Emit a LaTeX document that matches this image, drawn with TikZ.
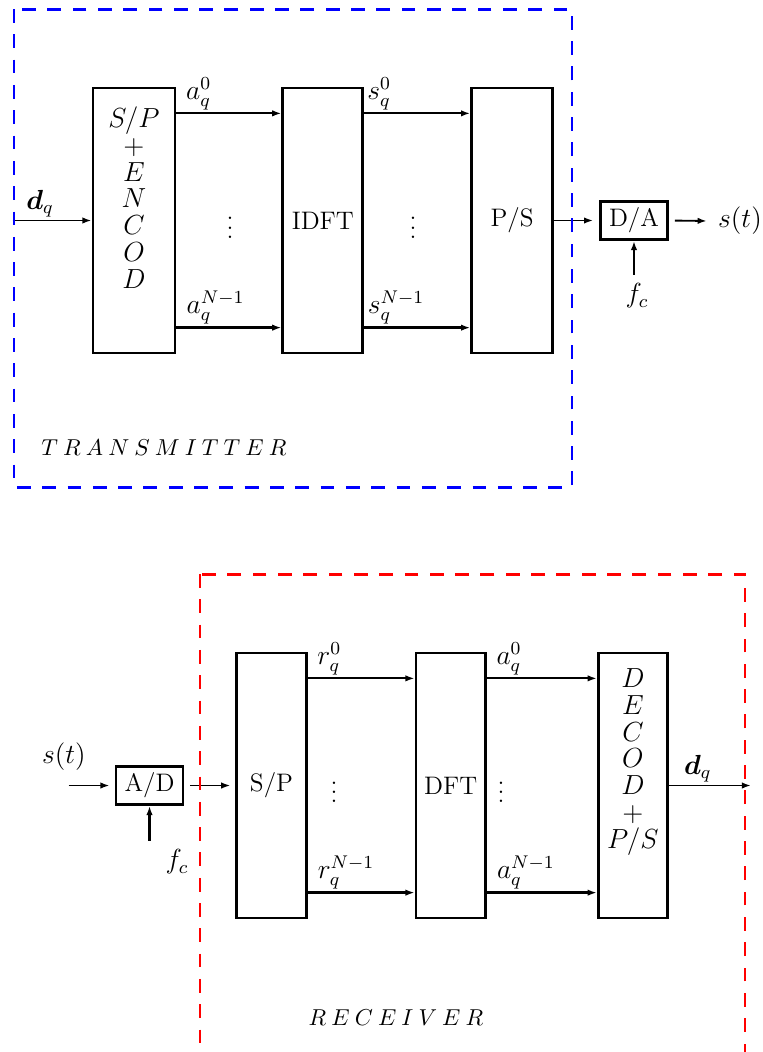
\documentclass[tikz,border=0pt]{standalone}
\usepackage{amsmath}
\usepackage{amssymb}
\usepackage{tikz}
\usetikzlibrary{arrows.meta,calc,positioning}
\tikzset{
  ofBlock/.style={
    rectangle, draw, line width=1.2pt, minimum width=#1,
    minimum height=4.049cm, inner sep=0pt, font=\fontsize{11}{13}\selectfont
  },
  ofBlock/.default=1.06cm,
  ofSmall/.style={
    rectangle, draw, line width=1.2pt, minimum width=1.024cm,
    minimum height=0.581cm, inner sep=0pt, font=\fontsize{11}{13}\selectfont
  },
  ofStack/.style={align=center, inner sep=0pt, font=\fontsize{12}{11.6}\selectfont},
  ofMath/.style={font=\large},
  ofLabel/.style={anchor=south west, inner sep=1pt, xshift=0.1cm, font=\large},
  ofArrow/.style={-{Latex[length=4pt, width=2.8pt]}, line width=0.8pt},
  ofThick/.style={ofArrow, line width=1.2pt},
  ofFrame/.style={draw=#1, line width=1.3pt, dash pattern=on 6pt off 5pt}
}

\begin{document}
\begin{tikzpicture}[x=0.01528cm, y=-0.01528cm]
  \useasboundingbox (0,0) rectangle (763,1052);

  % transmitter
  \node[ofBlock=1.253cm] (enc) at (134,220.5) {};
  \node[ofStack] (enctxt) at ([yshift=0.35cm]enc.center) {$S/P$\\$+$\\$E$\\$N$\\$C$\\$O$\\$D$};
  \node[ofBlock=1.222cm, right=1.604cm of enc] (idft) {IDFT};
  \node[ofBlock=1.238cm, right=1.620cm of idft] (ps) {P/S};
  \node[ofSmall, right=0.688cm of ps] (da) {D/A};
  \node[ofMath] (st) at (740,221) {$s(t)$};
  \node[ofMath] (fc) at (637,296) {$f_c$};
  \node (dotsa) at (230,221) {$\vdots$};
  \node (dotsb) at (413,221) {$\vdots$};
  \coordinate (txin) at ([xshift=-1.207cm]enc.west);
  \coordinate (fcin) at ([yshift=-0.52cm]da.south);

  \draw[ofArrow] (txin) -- (enc.west) node[ofLabel, pos=0, xshift=0.06cm] (dq) {$\boldsymbol{d}_q$};
  \draw[ofArrow] ($(enc.north east)!0.1!(enc.south east)$) -- ($(idft.north west)!0.1!(idft.south west)$)
    node[ofLabel, pos=0] (atop) {$a_q^0$};
  \draw[ofThick] ($(enc.north east)!0.9!(enc.south east)$) -- ($(idft.north west)!0.9!(idft.south west)$)
    node[ofLabel, pos=0] (abot) {$a_q^{N-1}$};
  \draw[ofArrow] ($(idft.north east)!0.1!(idft.south east)$) -- ($(ps.north west)!0.1!(ps.south west)$)
    node[ofLabel, pos=0, xshift=-0.1cm] (stop) {$s_q^0$};
  \draw[ofThick] ($(idft.north east)!0.9!(idft.south east)$) -- ($(ps.north west)!0.9!(ps.south west)$)
    node[ofLabel, pos=0, xshift=-0.1cm] (sbot) {$s_q^{N-1}$};
  \draw[ofArrow, shorten >=0.09cm] (ps.east) -- (da.west);
  \draw[ofArrow, shorten <=0.09cm, shorten >=0.05cm] (da.east) -- (st.west);
  \draw[ofThick] (fcin) -- (da.south);

  \draw[ofFrame=blue] (14,9) rectangle (572,487);
  \node (txname) at (164,448) {$T\:R\:A\:N\:S\:M\:I\:T\:T\:E\:R$};

  % receiver
  \node[ofBlock] (sp) at (271.5,785.5) {S/P};
  \node[ofBlock, right=1.635cm of sp] (dft) {DFT};
  \node[ofBlock, right=1.681cm of dft] (dec) {};
  \node[ofStack] (dectxt) at ([yshift=0.36cm]dec.center) {$D$\\$E$\\$C$\\$O$\\$D$\\$+$\\$P/S$};
  \node[ofSmall, left=0.779cm of sp] (ad) {A/D};
  \node[ofMath] (rst) at (64,757) {$s(t)$};
  \node[ofMath] (fcr) at (177,862) {$f_c$};
  \node (dotsc) at (334,785.5) {$\vdots$};
  \node (dotsd) at (501,785.5) {$\vdots$};
  \coordinate (rxin) at ([xshift=-0.703cm]ad.west);
  \coordinate (rxout) at ([xshift=1.253cm]dec.east);
  \coordinate (fcrx) at ([yshift=-0.535cm]ad.south);

  \draw[ofArrow, shorten >=0.076cm] (rxin) -- (ad.west);
  \draw[ofArrow, shorten <=0.09cm, shorten >=0.076cm] (ad.east) -- (sp.west);
  \draw[ofThick] (fcrx) -- (ad.south);
  \draw[ofArrow] ($(sp.north east)!0.1!(sp.south east)$) -- ($(dft.north west)!0.1!(dft.south west)$)
    node[ofLabel, pos=0] (rtop) {$r_q^0$};
  \draw[ofThick] ($(sp.north east)!0.9!(sp.south east)$) -- ($(dft.north west)!0.9!(dft.south west)$)
    node[ofLabel, pos=0] (rbot) {$r_q^{N-1}$};
  \draw[ofArrow] ($(dft.north east)!0.1!(dft.south east)$) -- ($(dec.north west)!0.1!(dec.south west)$)
    node[ofLabel, pos=0] (dtop) {$a_q^0$};
  \draw[ofThick] ($(dft.north east)!0.9!(dft.south east)$) -- ($(dec.north west)!0.9!(dec.south west)$)
    node[ofLabel, pos=0] (dbot) {$a_q^{N-1}$};
  \draw[ofArrow] (dec.east) -- (rxout) node[ofLabel, pos=0, xshift=0.08cm] (dqr) {$\boldsymbol{d}_q$};

  \begin{scope}
    \clip (0,0) rectangle (763,1052);
    \draw[ofFrame=red] (200,574) rectangle (745,1100);
  \end{scope}
  \node (rxname) at (396,1018) {$R\:E\:C\:E\:I\:V\:E\:R$};
\end{tikzpicture}
\end{document}
